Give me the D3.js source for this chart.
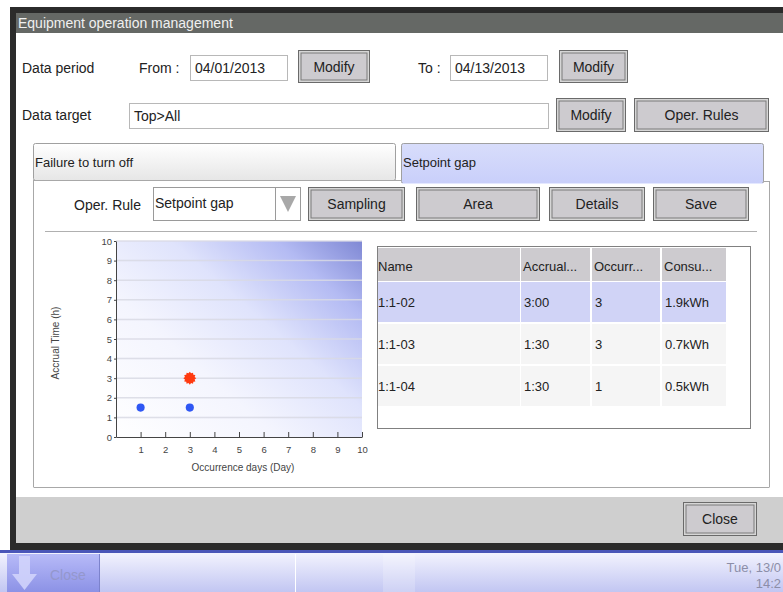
<!DOCTYPE html>
<html><head><meta charset="utf-8">
<script src="https://cdn.jsdelivr.net/npm/d3@7"></script>
<style>
html,body{margin:0;padding:0;background:#fff;}
svg{display:block;}
text{font-family:"Liberation Sans",Arial,sans-serif;}
</style></head>
<body>
<svg id="c" width="783" height="592"></svg>
<script>
// ---- data ----
const xDomain = [0, 10];
const yDomain = [0, 10];
const xTickValues = [1, 2, 3, 4, 5, 6, 7, 8, 9, 10];
const yTickValues = [0, 1, 2, 3, 4, 5, 6, 7, 8, 9, 10];
const pointDays = [1, 3, 3];
const pointHours = [1.5, 1.5, 3];
const pointSelected = [false, false, true];
const xTitle = "Occurrence days (Day)";
const yTitle = "Accrual Time (h)";
const tableColumns = ["Name", "Accrual...", "Occurr...", "Consu..."];
const rowNames = ["1:1-02", "1:1-03", "1:1-04"];
const rowAccrual = ["3:00", "1:30", "1:30"];
const rowOccurrences = ["3", "3", "1"];
const rowConsumption = ["1.9kWh", "0.7kWh", "0.5kWh"];

const svg = d3.select("#c");
const defs = svg.append("defs");
const TXT = "#222";

function btn(x, y, w, h, label) {
  const g = svg.append("g");
  g.append("rect").attr("x", x).attr("y", y).attr("width", w).attr("height", h)
    .attr("fill", "#6a6a6a");
  g.append("rect").attr("x", x + 1).attr("y", y + 1).attr("width", w - 2).attr("height", h - 2)
    .attr("fill", "#d6d6d6");
  g.append("rect").attr("x", x + 3).attr("y", y + 3).attr("width", w - 6).attr("height", h - 6)
    .attr("fill", "#cdcbcf").attr("stroke", "#7a7a7a").attr("stroke-width", 1);
  g.append("text").attr("x", x + w / 2).attr("y", y + h / 2 + 5).attr("text-anchor", "middle")
    .attr("font-size", 14).attr("fill", TXT).text(label);
}
function input(x, y, w, h, val) {
  svg.append("rect").attr("x", x + 0.5).attr("y", y + 0.5).attr("width", w).attr("height", h)
    .attr("fill", "#fff").attr("stroke", "#b8b8b8");
  svg.append("text").attr("x", x + 5).attr("y", y + h / 2 + 5).attr("font-size", 14)
    .attr("fill", TXT).text(val);
}
function label(x, y, t, anchor) {
  svg.append("text").attr("x", x).attr("y", y).attr("font-size", 14).attr("fill", TXT)
    .attr("text-anchor", anchor || "start").text(t);
}

// ---- window frame ----
svg.append("rect").attr("x", 10).attr("y", 7).attr("width", 773).attr("height", 543).attr("fill", "#2b2b2b");
svg.append("rect").attr("x", 16).attr("y", 13).attr("width", 767).attr("height", 20).attr("fill", "#656865");
svg.append("text").attr("x", 18).attr("y", 28).attr("font-size", 14).attr("fill", "#f0f0f0")
  .text("Equipment operation management");
svg.append("rect").attr("x", 16).attr("y", 33).attr("width", 767).attr("height", 464).attr("fill", "#fff");
svg.append("rect").attr("x", 16).attr("y", 497).attr("width", 767).attr("height", 46).attr("fill", "#cfcfcf");

// ---- header controls ----
label(22, 73, "Data period");
label(139, 73, "From :");
input(190, 55, 97, 25, "04/01/2013");
btn(298, 50, 72, 33, "Modify");
label(418, 73, "To :");
input(450, 55, 97, 25, "04/13/2013");
btn(559, 50, 69, 33, "Modify");
label(22, 120, "Data target");
input(129, 103, 419, 25, "Top>All");
btn(556, 98, 70, 34, "Modify");
btn(634, 98, 135, 34, "Oper. Rules");

// ---- tabs ----
const tabGrad = defs.append("linearGradient").attr("id", "tab1").attr("x1", 0).attr("y1", 0).attr("x2", 0).attr("y2", 1);
tabGrad.append("stop").attr("offset", 0).attr("stop-color", "#ffffff");
tabGrad.append("stop").attr("offset", 1).attr("stop-color", "#e6e6e6");
const tabGrad2 = defs.append("linearGradient").attr("id", "tab2").attr("x1", 0).attr("y1", 0).attr("x2", 0).attr("y2", 1);
tabGrad2.append("stop").attr("offset", 0).attr("stop-color", "#d8ddfb");
tabGrad2.append("stop").attr("offset", 1).attr("stop-color", "#c9cffa");
svg.append("rect").attr("x", 33.5).attr("y", 143.5).attr("width", 362).attr("height", 37)
  .attr("fill", "url(#tab1)").attr("stroke", "#a0a0a0").attr("rx", 2);
svg.append("rect").attr("x", 401.5).attr("y", 143.5).attr("width", 362).attr("height", 40)
  .attr("fill", "url(#tab2)").attr("stroke", "#a0a0a0").attr("rx", 2);
svg.append("text").attr("x", 35).attr("y", 167).attr("font-size", 13).attr("fill", TXT).text("Failure to turn off");
svg.append("text").attr("x", 403).attr("y", 167).attr("font-size", 13).attr("fill", TXT).text("Setpoint gap");

// ---- panel ----
svg.append("rect").attr("x", 34).attr("y", 184).attr("width", 735).attr("height", 303).attr("fill", "#fff");
svg.append("line").attr("x1", 33.5).attr("x2", 402).attr("y1", 180.5).attr("y2", 180.5).attr("stroke", "#a8a8a8");
svg.append("line").attr("x1", 763).attr("x2", 769.5).attr("y1", 181.5).attr("y2", 181.5).attr("stroke", "#a8a8a8");
svg.append("line").attr("x1", 402).attr("x2", 763).attr("y1", 183.5).attr("y2", 183.5).attr("stroke", "#e4e8ff");
svg.append("line").attr("x1", 33.5).attr("x2", 33.5).attr("y1", 180).attr("y2", 487).attr("stroke", "#a8a8a8");
svg.append("line").attr("x1", 769.5).attr("x2", 769.5).attr("y1", 181).attr("y2", 487).attr("stroke", "#a8a8a8");
svg.append("line").attr("x1", 33.5).attr("x2", 769.5).attr("y1", 487.5).attr("y2", 487.5).attr("stroke", "#a8a8a8");

label(74, 210, "Oper. Rule");
svg.append("rect").attr("x", 153.5).attr("y", 187.5).attr("width", 147).attr("height", 33).attr("fill", "#fff").attr("stroke", "#9a9a9a");
svg.append("line").attr("x1", 275.5).attr("x2", 275.5).attr("y1", 188).attr("y2", 220).attr("stroke", "#9a9a9a");
svg.append("path").attr("d", "M280,196 L296,196 L288,212 Z").attr("fill", "#a8a8a8");
svg.append("text").attr("x", 155).attr("y", 208).attr("font-size", 14).attr("fill", TXT).text("Setpoint gap");
btn(308, 187, 97, 34, "Sampling");
btn(416, 187, 124, 34, "Area");
btn(549, 187, 96, 34, "Details");
btn(653, 187, 96, 34, "Save");
svg.append("line").attr("x1", 45).attr("x2", 757).attr("y1", 231.5).attr("y2", 231.5).attr("stroke", "#b0b0b0");

// ---- scatter chart ----
const P = {l: 116, r: 362, t: 241, b: 437};
const x = d3.scaleLinear().domain(xDomain).range([P.l, P.r]);
const y = d3.scaleLinear().domain(yDomain).range([P.b, P.t]);

const bg = defs.append("linearGradient").attr("id", "plotbg").attr("gradientUnits", "userSpaceOnUse")
  .attr("x1", P.l + 40).attr("y1", P.b + 40).attr("x2", P.r).attr("y2", P.t);
bg.append("stop").attr("offset", 0).attr("stop-color", "#ffffff");
bg.append("stop").attr("offset", 0.35).attr("stop-color", "#f4f5fe");
bg.append("stop").attr("offset", 0.6).attr("stop-color", "#dfe3fc");
bg.append("stop").attr("offset", 0.82).attr("stop-color", "#b4bbf3");
bg.append("stop").attr("offset", 1).attr("stop-color", "#7f88d4");
svg.append("rect").attr("x", P.l).attr("y", P.t).attr("width", P.r - P.l).attr("height", P.b - P.t)
  .attr("fill", "url(#plotbg)");

// gridlines
svg.append("g").selectAll("line").data(yTickValues.filter(d => d > 0)).join("line")
  .attr("x1", P.l).attr("x2", P.r).attr("y1", d => y(d)).attr("y2", d => y(d))
  .attr("stroke", "#d8d9e4").attr("stroke-opacity", 0.85).attr("stroke-width", 1.5);

const xAxis = svg.append("g").attr("transform", `translate(0,${P.b})`)
  .call(d3.axisBottom(x).tickValues(xTickValues).tickSizeInner(-5).tickSizeOuter(0).tickPadding(9));
const yAxis = svg.append("g").attr("transform", `translate(${P.l},0)`)
  .call(d3.axisLeft(y).tickValues(yTickValues).tickSizeInner(2).tickSizeOuter(0).tickPadding(2));
[xAxis, yAxis].forEach(a => {
  a.select(".domain").attr("stroke", "#444");
  a.selectAll(".tick line").attr("stroke", "#444");
  a.selectAll("text").attr("font-size", 9.5).attr("fill", "#444")
    .attr("font-family", "'Liberation Sans',Arial,sans-serif");
});

svg.append("text").attr("x", 243).attr("y", 471).attr("text-anchor", "middle")
  .attr("font-size", 10).attr("fill", "#444").text(xTitle);
svg.append("text").attr("transform", `translate(59,${(P.t + P.b) / 2 + 4}) rotate(-90)`)
  .attr("text-anchor", "middle").attr("font-size", 10).attr("fill", "#444").text(yTitle);

const burst = {
  draw(ctx, size) {
    const R = Math.sqrt(size / Math.PI), r = R * 0.78, n = 12;
    for (let i = 0; i < n * 2; i++) {
      const a = i * Math.PI / n, rr = i % 2 ? r : R;
      const px = rr * Math.sin(a), py = -rr * Math.cos(a);
      if (i === 0) ctx.moveTo(px, py); else ctx.lineTo(px, py);
    }
    ctx.closePath();
  }
};
const pts = pointDays.map((d, i) => ({d, h: pointHours[i], sel: pointSelected[i]}));
svg.append("g").selectAll("path").data(pts).join("path")
  .attr("transform", p => `translate(${x(p.d)},${y(p.h)})`)
  .attr("d", p => p.sel ? d3.symbol(burst, 130)() : d3.symbol(d3.symbolCircle, 52)())
  .attr("fill", p => p.sel ? "#ff3a10" : "#2f57f4");

// ---- table ----
svg.append("rect").attr("x", 377.5).attr("y", 246.5).attr("width", 373).attr("height", 182)
  .attr("fill", "#fff").attr("stroke", "#808080");
const colX = [378, 521, 592, 662];
const colW = [142, 69, 68, 64];
const rowsData = rowNames.map((n, i) => [n, rowAccrual[i], rowOccurrences[i], rowConsumption[i]]);
const headerY = 248, headerH = 33, rowH = 40, rowY0 = 282;
colX.forEach((cx, j) => {
  svg.append("rect").attr("x", cx).attr("y", headerY).attr("width", colW[j]).attr("height", headerH).attr("fill", "#cdcbcf");
  svg.append("text").attr("x", cx + (j === 0 ? 0 : 2)).attr("y", headerY + 23).attr("font-size", 13).attr("fill", TXT).text(tableColumns[j]);
});
rowsData.forEach((row, i) => {
  row.forEach((v, j) => {
    const ry = rowY0 + i * (rowH + 2);
    svg.append("rect").attr("x", colX[j]).attr("y", ry).attr("width", colW[j]).attr("height", rowH)
      .attr("fill", i === 0 ? "#d0d3f6" : "#f5f5f5");
    svg.append("text").attr("x", colX[j] + (j === 0 ? 0 : 3)).attr("y", ry + 25).attr("font-size", 13)
      .attr("fill", TXT).text(v);
  });
});

// ---- footer ----
btn(683, 502, 74, 34, "Close");

// ---- taskbar ----
const tb = defs.append("linearGradient").attr("id", "tb").attr("x1", 0).attr("y1", 0).attr("x2", 0).attr("y2", 1);
tb.append("stop").attr("offset", 0).attr("stop-color", "#f6f6ff");
tb.append("stop").attr("offset", 1).attr("stop-color", "#c2c6f2");
svg.append("rect").attr("x", 0).attr("y", 550).attr("width", 783).attr("height", 42).attr("fill", "url(#tb)");
svg.append("rect").attr("x", 0).attr("y", 550).attr("width", 783).attr("height", 3).attr("fill", "#4a56b8");
const tb2 = defs.append("linearGradient").attr("id", "tb2").attr("x1", 0).attr("y1", 0).attr("x2", 0).attr("y2", 1);
tb2.append("stop").attr("offset", 0).attr("stop-color", "#b7baf8");
tb2.append("stop").attr("offset", 1).attr("stop-color", "#8c92e6");
svg.append("rect").attr("x", 7).attr("y", 554).attr("width", 92).attr("height", 38).attr("fill", "url(#tb2)");
svg.append("line").attr("x1", 99.5).attr("x2", 99.5).attr("y1", 554).attr("y2", 592).attr("stroke", "#7c82cc");
svg.append("path").attr("d", "M19,556 H30 V574 H37 L24.5,590 L12,574 H19 Z").attr("fill", "#d4d6fb").attr("opacity", 0.85);
svg.append("text").attr("x", 50).attr("y", 580).attr("font-size", 14).attr("fill", "#9497cc").text("Close");
svg.append("line").attr("x1", 295.5).attr("x2", 295.5).attr("y1", 554).attr("y2", 592).attr("stroke", "#ffffff");
svg.append("rect").attr("x", 383).attr("y", 554).attr("width", 32).attr("height", 38).attr("fill", "#ffffff").attr("opacity", 0.2);
svg.append("text").attr("x", 781).attr("y", 572).attr("text-anchor", "end").attr("font-size", 13).attr("fill", "#8c8ea8").text("Tue, 13/0");
svg.append("text").attr("x", 781).attr("y", 588).attr("text-anchor", "end").attr("font-size", 13).attr("fill", "#8c8ea8").text("14:2");
</script>
</body></html>
